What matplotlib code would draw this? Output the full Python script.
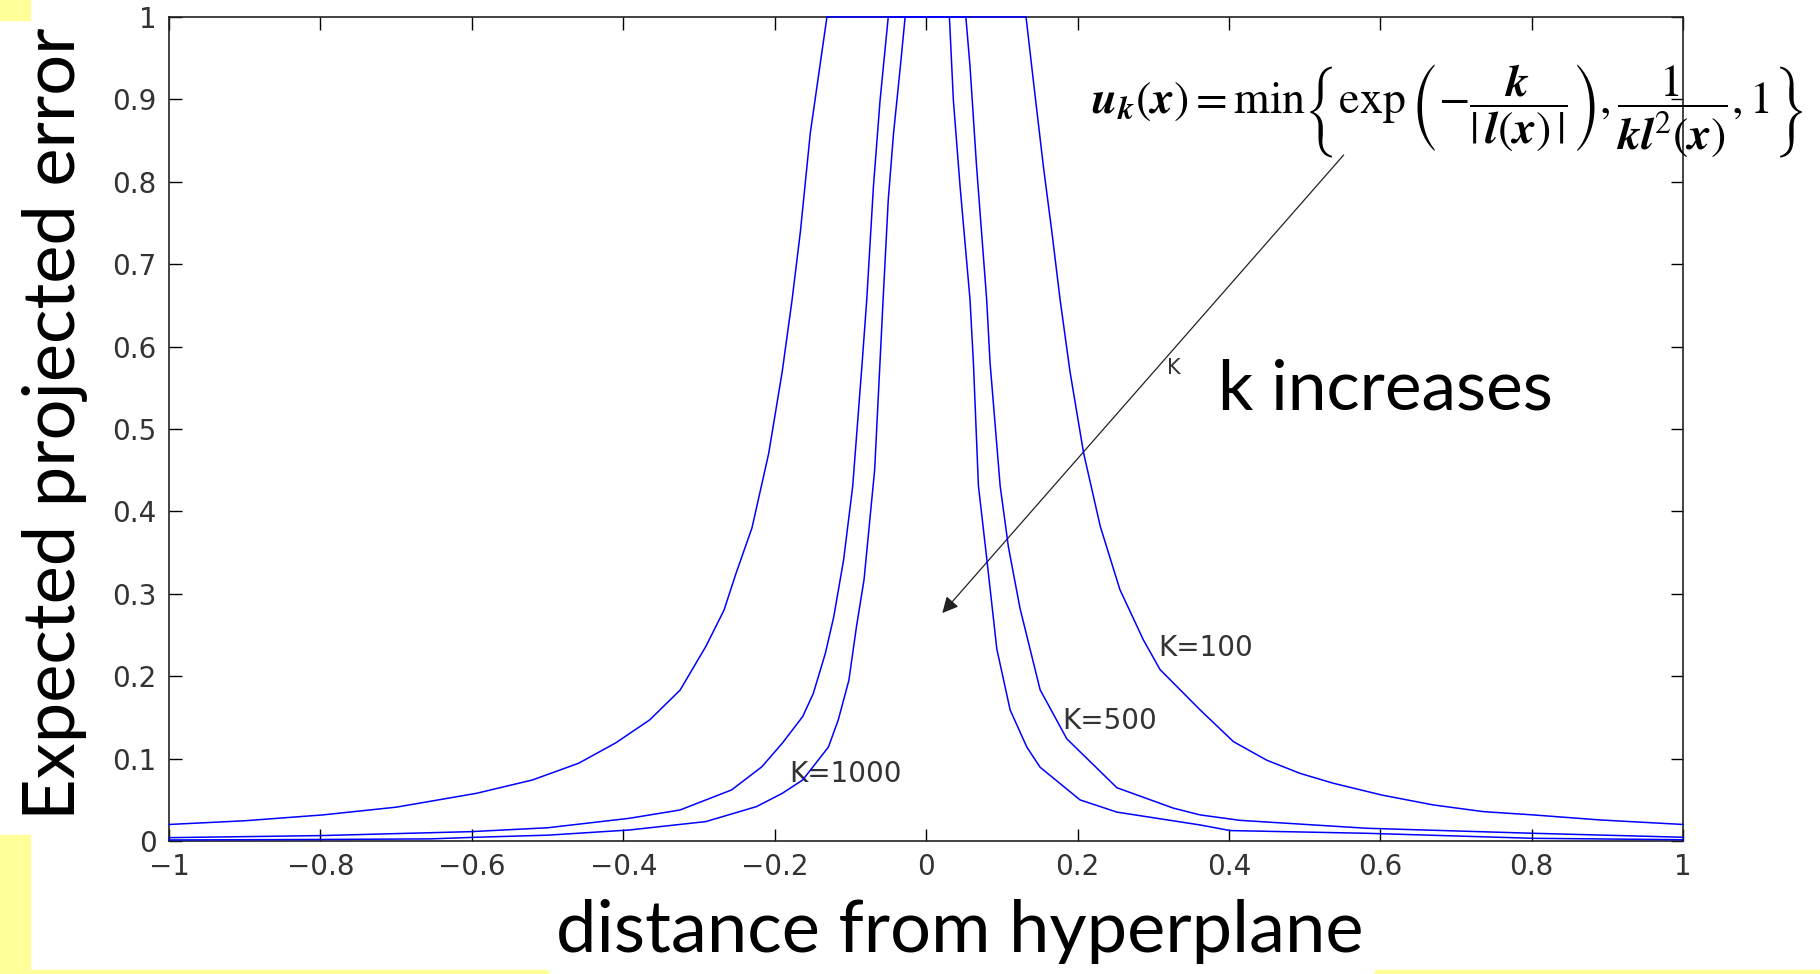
import matplotlib
matplotlib.use("Agg")
import matplotlib.pyplot as plt
from matplotlib.patches import Rectangle

# curve readings (distance, expected projected error)
x_k100 = [-1.0, -0.9, -0.797, -0.7, -0.594, -0.52, -0.459, -0.41, -0.365, -0.325, -0.291, -0.267,
          -0.251, -0.23, -0.208, -0.19, -0.177, -0.166, -0.153, -0.131,
          0.132, 0.142, 0.155, 0.166, 0.177, 0.19, 0.208, 0.23, 0.256, 0.287, 0.309, 0.362,
          0.406, 0.45, 0.494, 0.538, 0.602, 0.67, 0.736, 0.802, 0.89, 1.0]
y_k100 = [0.020, 0.0245, 0.0316, 0.041, 0.0578, 0.074, 0.0943, 0.119, 0.147, 0.183, 0.236, 0.280,
          0.325, 0.38, 0.47, 0.57, 0.657, 0.74, 0.859, 1.0,
          1.0, 0.92, 0.818, 0.74, 0.657, 0.57, 0.471, 0.382, 0.305, 0.244, 0.208, 0.159,
          0.1205, 0.098, 0.082, 0.070, 0.0557, 0.0437, 0.0356, 0.0316, 0.0255, 0.020]

x_k500 = [-1.0, -0.8, -0.601, -0.5, -0.392, -0.325, -0.257, -0.217, -0.19, -0.163, -0.149, -0.133,
          -0.122, -0.109, -0.097, -0.0845, -0.0784, -0.0696, -0.0608, -0.05,
          0.0525, 0.058, 0.0667, 0.08, 0.0845, 0.0978, 0.1087, 0.124, 0.1506, 0.1858, 0.252,
          0.3267, 0.362, 0.4148, 0.582, 0.802, 1.0]
y_k500 = [0.004, 0.0065, 0.0113, 0.016, 0.0275, 0.0376, 0.0619, 0.090, 0.1186, 0.151, 0.179, 0.228,
          0.272, 0.341, 0.43, 0.58, 0.657, 0.794, 0.899, 1.0,
          1.0, 0.94, 0.818, 0.657, 0.58, 0.431, 0.357, 0.2825, 0.1835, 0.124, 0.0646,
          0.0398, 0.0316, 0.025, 0.0154, 0.0093, 0.0045]

x_k1000 = [-1.0, -0.8, -0.655, -0.594, -0.5, -0.392, -0.291, -0.224, -0.19, -0.163, -0.129, -0.116,
           -0.102, -0.092, -0.082, -0.068, -0.0568, -0.05, -0.043, -0.034, -0.0277,
           0.0308, 0.036, 0.0449, 0.058, 0.0625, 0.0691, 0.0802, 0.0934, 0.111, 0.133, 0.1506,
           0.2034, 0.252, 0.362, 0.4016, 0.582, 0.802, 1.0]
y_k1000 = [0.0012, 0.0018, 0.0025, 0.0045, 0.007, 0.0133, 0.0235, 0.0417, 0.0578, 0.074, 0.114, 0.147,
           0.195, 0.26, 0.317, 0.45, 0.657, 0.778, 0.859, 0.94, 1.0,
           1.0, 0.899, 0.794, 0.657, 0.58, 0.431, 0.342, 0.233, 0.159, 0.114, 0.0894,
           0.0498, 0.035, 0.0194, 0.0126, 0.0093, 0.0032, 0.0015]

xticks = [-1, -0.8, -0.6, -0.4, -0.2, 0, 0.2, 0.4, 0.6, 0.8, 1]
xtick_labels = ['\u22121', '\u22120.8', '\u22120.6', '\u22120.4', '\u22120.2', '0', '0.2', '0.4', '0.6', '0.8', '1']
yticks = [0, 0.1, 0.2, 0.3, 0.4, 0.5, 0.6, 0.7, 0.8, 0.9, 1]
ytick_labels = ['0', '0.1', '0.2', '0.3', '0.4', '0.5', '0.6', '0.7', '0.8', '0.9', '1']

labels = ['K=100', 'K=500', 'K=1000']
label_pos = [(0.3065, 0.234), (0.1797, 0.1456), (-0.181, 0.0813)]

hand = ['Lato', 'DejaVu Sans']
tick_font = ['DejaVu Sans']
yellow = '#ffff99'

fig = plt.figure(figsize=(18.2, 9.74), dpi=100)
fig.patch.set_facecolor('white')

# yellow slide bits round the edges
for (x0, y0, w, h) in [(0, 954, 30, 20), (0, 0, 30, 139), (30, 0, 518, 4), (1375, 0, 445, 4)]:
    fig.patches.append(Rectangle((x0 / 1820, y0 / 974), w / 1820, h / 974,
                                 transform=fig.transFigure, color=yellow, zorder=0))

ax = fig.add_axes([0.0929, 0.1366, 0.8319, 0.8460])

for xs, ys in [(x_k100, y_k100), (x_k500, y_k500), (x_k1000, y_k1000)]:
    ax.plot(xs, ys, color='#0000ff', lw=1.1, zorder=4, clip_on=False)

ax.set_xlim(-1, 1)
ax.set_ylim(0, 1)
ax.set_xticks(xticks)
ax.set_xticklabels(xtick_labels, family=tick_font, fontsize=20, color='#333333')
ax.set_yticks(yticks)
ax.set_yticklabels(ytick_labels, family=tick_font, fontsize=20, color='#333333')
ax.tick_params(direction='in', length=9, width=1, top=True, right=True, pad=9)
for s in ax.spines.values():
    s.set_linewidth(1.2)
    s.set_color('#222222')

for txt, (lx, ly) in zip(labels, label_pos):
    ax.text(lx, ly, txt, family=tick_font, fontsize=20, color='#333333', ha='left', va='center')

# arrow and annotation
ax.annotate('', xy=(0.019, 0.274), xytext=(0.554, 0.835),
            arrowprops=dict(arrowstyle='-|>', color='#222222', lw=0.9, mutation_scale=24))
ax.text(0.318, 0.574, 'K', family=tick_font, fontsize=15, color='#333333', ha='left', va='center')
ax.text(0.3857, 0.523, 'k increases', family=hand, fontsize=50, ha='left', va='baseline')

plt.rcParams['mathtext.fontset'] = 'stix'
formula = (r'$\mathbfit{u}_{\mathbfit{k}}(\mathbfit{x}) = \min\left\{\exp\left(-\dfrac{\mathbfit{k}}'
           r'{|\,\mathbfit{l}(\mathbfit{x})\,|}\right), \dfrac{1}{\mathbfit{k}\mathbfit{l}^{2}(\mathbfit{x})}, 1\right\}$')
ax.text(0.218, 0.885, formula, fontsize=33, ha='left', va='center', clip_on=False)

# axis titles
fig.text(960 / 1820, 1 - 931 / 974, 'distance from hyperplane', family=hand, fontsize=52,
         ha='center', va='center')
fig.text(55 / 1820, 1 - 424 / 974, 'Expected projected error', family=hand, fontsize=52,
         rotation=90, ha='center', va='center')

fig.savefig('out.png', dpi=100)
